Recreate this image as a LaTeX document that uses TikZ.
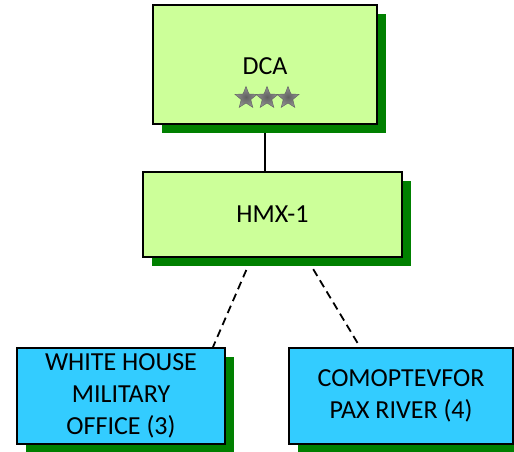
\documentclass[tikz,border=0pt]{standalone}
\usepackage{fontspec}
\setmainfont{Carlito}
\usetikzlibrary{shapes.geometric,shadows,calc,backgrounds}
\definecolor{boxgreen}{HTML}{CCFF99}
\definecolor{shadowgreen}{HTML}{008000}
\definecolor{boxblue}{HTML}{33CCFF}
\tikzset{
  orgbox/.style={draw=black, line width=2pt, align=center, inner sep=0pt,
    font=\fontsize{26}{32}\selectfont,
    drop shadow={shadow xshift=9pt, shadow yshift=-9pt, fill=shadowgreen, opacity=1}},
  greenbox/.style={orgbox, fill=boxgreen},
  bluebox/.style={orgbox, fill=boxblue},
  rankstar/.style={star, star points=5, star point ratio=2.3, minimum size=23pt,
    inner sep=0pt, inner color=gray!75!black, outer color=gray!85, draw=gray!80!black, line width=0.5pt},
  link/.style={line width=1.8pt},
  dashlink/.style={line width=1.8pt, dash pattern=on 8pt off 5pt}
}
\begin{document}
\begin{tikzpicture}[x=1pt,y=-1pt]
\useasboundingbox (0,0) rectangle (514,452);
\node[greenbox, minimum width=224pt, minimum height=119pt] (dca) at (265,64.5) {};
\node (dcat) at (265,66) {\fontsize{26}{32}\selectfont DCA};
\node[rankstar] (s1) at (246,98) {};
\node[rankstar] (s2) at (267,98) {};
\node[rankstar] (s3) at (288,98) {};
\node[greenbox, minimum width=259pt, minimum height=85pt] (hmx) at (272.5,214.5) {HMX-1};
\node[bluebox, minimum width=208pt, minimum height=96pt] (wh) at (121,396) {WHITE HOUSE\\MILITARY\\OFFICE (3)};
\node[bluebox, minimum width=224pt, minimum height=96pt] (cmo) at (401,396) {COMOPTEVFOR\\PAX RIVER (4)};
\begin{pgfonlayer}{background}
\draw[link] (265,124) -- (265,172);
\draw[dashlink] ($(hmx.south)+(-21,0)$) -- ($(wh.north)+(92,0)$);
\draw[dashlink] ($(hmx.south)+(34,0)$) -- ($(cmo.north)+(-41,0)$);
\end{pgfonlayer}
\end{tikzpicture}
\end{document}
